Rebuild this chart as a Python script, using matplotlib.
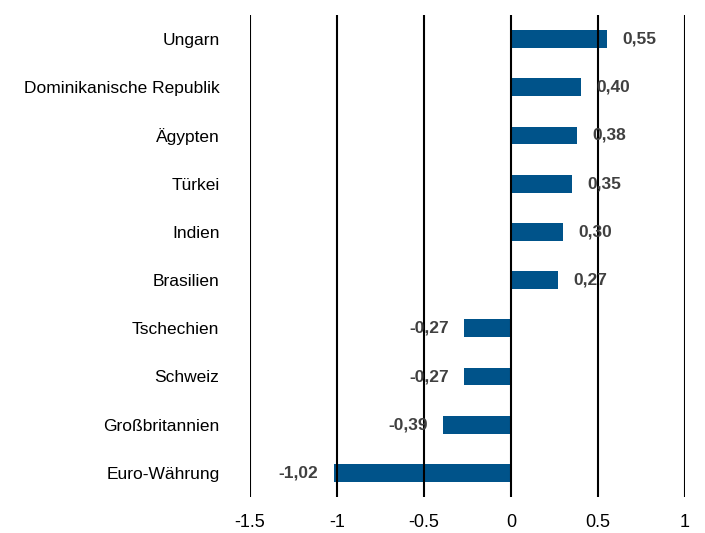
import matplotlib
matplotlib.use("Agg")
import matplotlib.pyplot as plt
from matplotlib import font_manager

categories = ["Ungarn", "Dominikanische Republik", "Ägypten", "Türkei", "Indien",
              "Brasilien", "Tschechien", "Schweiz", "Großbritannien", "Euro-Währung"]
values = [0.55, 0.40, 0.38, 0.35, 0.30, 0.27, -0.27, -0.27, -0.39, -1.02]
value_labels = ["0,55", "0,40", "0,38", "0,35", "0,30", "0,27", "-0,27", "-0,27", "-0,39", "-1,02"]
xticks = [-1.5, -1, -0.5, 0, 0.5, 1]
xticklabels = ["-1.5", "-1", "-0.5", "0", "0.5", "1"]

names = {f.name for f in font_manager.fontManager.ttflist}
fam = "Liberation Sans Narrow" if "Liberation Sans Narrow" in names else "Liberation Sans"
plt.rcParams["font.family"] = [fam, "DejaVu Sans"]

fig = plt.figure(figsize=(7.05, 5.33), dpi=100)
ax = fig.add_axes([250/705, 1 - 497/533, 435/705, 482/533])

pos = list(range(len(categories)))
ax.barh(pos, values, height=0.37, color="#00538A", zorder=1)
for x in xticks:
    ax.axvline(x, color="black", lw=1.5, zorder=2)

for p, v, lab in zip(pos, values, value_labels):
    if v >= 0:
        ax.annotate(lab, (v, p), xytext=(11, 0), textcoords="offset points",
                    ha="left", va="center", fontsize=12.5, fontweight="bold", color="#404040", zorder=3)
    else:
        ax.annotate(lab, (v, p), xytext=(-11, 0), textcoords="offset points",
                    ha="right", va="center", fontsize=12.5, fontweight="bold", color="#404040", zorder=3)

ax.set_xlim(-1.5, 1)
ax.set_ylim(len(categories) - 0.5, -0.5)
ax.set_yticks(pos)
ax.set_yticklabels(categories, fontsize=12.5)
ax.set_xticks(xticks)
ax.set_xticklabels(xticklabels, fontsize=13)
ax.tick_params(axis="y", length=0, pad=22)
ax.tick_params(axis="x", length=0, pad=12)
for s in ax.spines.values():
    s.set_visible(False)

fig.savefig("out.png", dpi=100)
